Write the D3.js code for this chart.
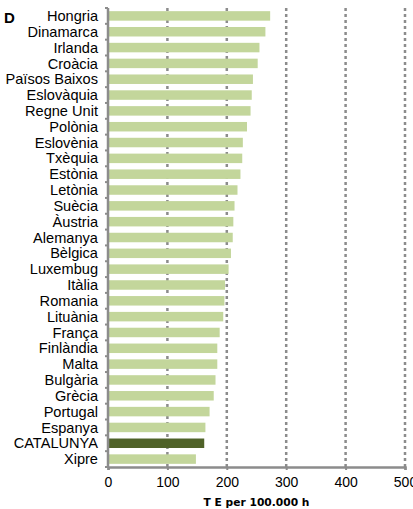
<!DOCTYPE html>
<html>
<head>
<meta charset="utf-8">
<script src="https://cdn.jsdelivr.net/npm/d3@7"></script>
<style>
  body { margin: 0; background: #fff; }
  svg { display: block; }
</style>
</head>
<body>
<div id="chart"></div>
<script>
// Countries (top to bottom) and values
const countries = ["Hongria", "Dinamarca", "Irlanda", "Croàcia", "Països Baixos", "Eslovàquia",
  "Regne Unit", "Polònia", "Eslovènia", "Txèquia", "Estònia", "Letònia", "Suècia", "Àustria",
  "Alemanya", "Bèlgica", "Luxembug", "Itàlia", "Romania", "Lituània", "França", "Finlàndia",
  "Malta", "Bulgària", "Grècia", "Portugal", "Espanya", "CATALUNYA", "Xipre"];
const values = [273, 265, 255, 252, 244, 242, 240, 234, 227, 226, 223, 218, 213, 211,
  210, 207, 203, 197, 196, 194, 188, 184, 184, 181, 178, 171, 164, 162, 148];
const xTicks = [0, 100, 200, 300, 400, 500];
const highlight = "CATALUNYA";

const W = 413, H = 509;
const margin = { top: 8, right: 8, bottom: 42, left: 108 };
const width = 405 - margin.left, height = 467 - margin.top;

const svg = d3.select("#chart").append("svg")
  .attr("width", W).attr("height", H)
  .style("font-family", "'Liberation Sans', Arial, sans-serif");

const g = svg.append("g").attr("transform", `translate(${margin.left},${margin.top})`);

const x = d3.scaleLinear().domain([0, 500]).range([0, width]);
const y = d3.scaleBand().domain(countries).range([0, height]).paddingInner(0.4).paddingOuter(0.2);

// dashed gridlines
g.append("g").selectAll("line")
  .data(xTicks.filter(d => d > 0))
  .join("line")
    .attr("x1", d => x(d)).attr("x2", d => x(d))
    .attr("y1", 0).attr("y2", height)
    .attr("stroke", "#8c8c8c")
    .attr("stroke-width", 2.5)
    .attr("stroke-dasharray", "3,3");

// bars
g.append("g").selectAll("rect")
  .data(countries.map((c, i) => ({ c, v: values[i] })))
  .join("rect")
    .attr("x", 0)
    .attr("y", d => y(d.c))
    .attr("width", d => x(d.v))
    .attr("height", y.bandwidth())
    .attr("fill", d => d.c === highlight ? "#4f6228" : "#c3d69b");

// y axis: line + small ticks at band boundaries
const yAx = g.append("g");
yAx.append("line")
  .attr("x1", 0).attr("x2", 0).attr("y1", 0).attr("y2", height)
  .attr("stroke", "#8c8c8c").attr("stroke-width", 2.5);
const step = y.step();
const off = (y.paddingOuter() - y.paddingInner() / 2) * step;
yAx.selectAll("line.tk")
  .data(d3.range(countries.length + 1))
  .join("line").attr("class", "tk")
    .attr("x1", -3).attr("x2", 0)
    .attr("y1", i => off + i * step)
    .attr("y2", i => off + i * step)
    .attr("stroke", "#8c8c8c").attr("stroke-width", 2);
yAx.selectAll("text")
  .data(countries)
  .join("text")
    .attr("x", -10)
    .attr("y", d => y(d) + y.bandwidth() / 2)
    .attr("dy", "0.35em")
    .attr("text-anchor", "end")
    .attr("font-size", 14.6)
    .attr("fill", "#000")
    .text(d => d);

// x axis
const xAx = g.append("g").attr("transform", `translate(0,${height})`)
  .call(d3.axisBottom(x).tickValues(xTicks).tickSize(3).tickPadding(7));
xAx.select(".domain").attr("stroke", "#8c8c8c").attr("stroke-width", 2.5);
xAx.selectAll(".tick line").attr("stroke", "#8c8c8c").attr("stroke-width", 2);
xAx.selectAll("text")
  .attr("font-size", 14)
  .attr("font-family", "'Liberation Sans', Arial, sans-serif")
  .attr("fill", "#000");

// axis title
svg.append("text")
  .attr("x", margin.left + width / 2)
  .attr("y", 506)
  .attr("text-anchor", "middle")
  .attr("font-size", 10.7)
  .attr("font-weight", "bold")
  .attr("font-family", "'DejaVu Sans', sans-serif")
  .text("T E per 100.000 h");

// panel letter
svg.append("text")
  .attr("x", 4).attr("y", 23)
  .attr("font-size", 15)
  .attr("font-weight", "bold")
  .text("D");
</script>
</body>
</html>
